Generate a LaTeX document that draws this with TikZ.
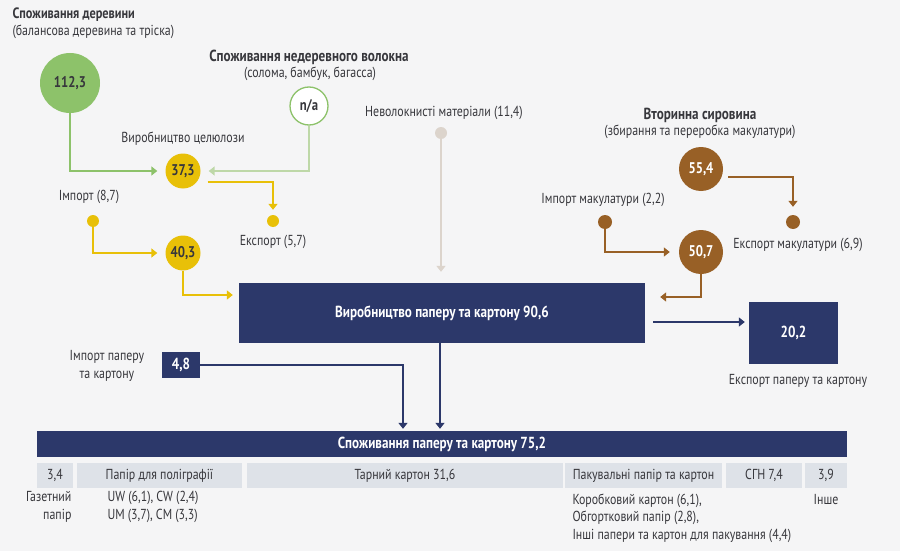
\documentclass[tikz,border=0pt]{standalone}
\usepackage{fontspec}
\setmainfont{PT Sans}[FakeStretch=0.82]
\usetikzlibrary{arrows.meta}

\definecolor{navy}{RGB}{44,56,106}
\definecolor{leaf}{RGB}{141,194,106}
\definecolor{paleleaf}{RGB}{190,216,168}
\definecolor{pulpy}{RGB}{232,192,8}
\definecolor{waste}{RGB}{152,96,38}
\definecolor{sand}{RGB}{220,212,204}
\definecolor{cellgray}{RGB}{222,226,232}
\definecolor{txt}{RGB}{55,55,60}
\definecolor{bg}{RGB}{245,245,246}

\begin{document}
\begin{tikzpicture}
	[x=1pt,y=-1pt,every node/.style={text=txt,font=\fontsize{14.5}{17.5}\selectfont},
	bold/.style={font=\bfseries\fontsize{16}{18}\selectfont},
	disc/.style={circle,inner sep=0pt,font=\bfseries\fontsize{15.5}{17}\selectfont},
	dot/.style={circle,inner sep=0pt,minimum size=12pt},
	box/.style={fill=navy,text=white,inner sep=0pt,font=\bfseries\fontsize{16}{18}\selectfont},
	cell/.style={fill=cellgray,inner sep=0pt,minimum height=25pt},
	flow/.style={line width=1.8pt,-{Triangle[width=9pt,length=6pt]}}]
	\useasboundingbox (0,0) rectangle (900,551);
	\fill[bg] (0,0) rectangle (900,551);
	
	% wood and non-wood fibre
	\node[anchor=west,bold,font=\bfseries\fontsize{15}{17}\selectfont] (t1) at (9,15) {Споживання деревини};
	\node[anchor=west] (t1s) at (9,32) {(балансова деревина та тріска)};
	\node[bold] (t2) at (309,57) {Споживання недеревного волокна};
	\node (t2s) at (310,74) {(солома, бамбук, багасса)};
	\node[disc,fill=leaf,minimum size=60pt] (wood) at (70,83) {112,3};
	\node[disc,draw=leaf,line width=1.3pt,fill=white,minimum size=38pt] (nonwood) at (309,106) {n/a};
	
	% pulp
	\node (l1) at (183,139) {Виробництво целюлози};
	\node[disc,fill=pulpy,minimum size=35pt] (pulp) at (183,171) {37,3};
	\node[dot,fill=pulpy] (pulpx) at (273,221) {};
	\node (l3) at (273,242) {Експорт (5,7)};
	\node (l2) at (89,197) {Імпорт (8,7)};
	\node[dot,fill=pulpy] (pulpi) at (93,221) {};
	\node[disc,fill=pulpy,minimum size=35pt] (pulpt) at (183,253) {40,3};
	
	\node (l4) at (444,113) {Неволокнисті матеріали (11,4)};
	\node[dot,fill=sand] (nonfib) at (441,133) {};
	
	% recovered paper
	\node[bold] (t3) at (700,115) {Вторинна сировина};
	\node (t3s) at (700,132) {(збирання та переробка макулатури)};
	\node[disc,fill=waste,text=white,minimum size=44pt] (rec) at (701,169) {55,4};
	\node[dot,fill=waste,minimum size=14pt] (recx) at (793,222) {};
	\node (l6) at (798,245) {Експорт макулатури (6,9)};
	\node (l5) at (603,200) {Імпорт макулатури (2,2)};
	\node[dot,fill=waste,minimum size=14pt] (reci) at (605,222) {};
	\node[disc,fill=waste,text=white,minimum size=44pt] (rect) at (701,252) {50,7};
	
	% paper and board
	\node[box,minimum width=406pt,minimum height=60pt] (prod) at (442,313) {Виробництво паперу та картону 90,6};
	\node[box,minimum width=89pt,minimum height=62pt] (expbox) at (793.5,333) {20,2};
	\node (l7) at (798,381) {Експорт паперу та картону};
	\node[align=center] (l8) at (107,366) {Імпорт паперу\\та картону};
	\node[box,minimum width=38pt,minimum height=26pt] (impbox) at (181,365) {4,8};
	\node[box,minimum width=810pt,minimum height=26pt] (cons) at (442,444) {Споживання паперу та картону 75,2};
	
	\foreach \x/\w/\name/\label in {55/36/c1/{3,4},159.5/165/c2/Папір для поліграфії,405/316/c3/{Тарний картон 31,6},643.5/157/c4/Пакувальні папір та картон,764/76/c5/{СГН 7,4},826/42/c6/{3,9}}
	\node[cell,minimum width=\w pt] (\name) at (\x,475.5) {\label};
	
	\node[anchor=east,align=right] (n1) at (75,507) {Газетний\\папір};
	\node[anchor=west,align=left] (n2) at (104,507) {UW (6,1), CW (2,4)\\UM (3,7), CM (3,3)};
	\node[anchor=west,align=left] (n3) at (569,518) {Коробковий картон (6,1),\\Обгортковий папір (2,8),\\Інші папери та картон для пакування (4,4)};
	\node (n4) at (826,500) {Інше};
	
	% flows
	\draw[flow,leaf,shorten >=8pt] (wood) |- (pulp);
	\draw[flow,paleleaf,shorten >=8pt] (nonwood) |- (pulp);
	\draw[flow,pulpy,shorten >=5pt] ([xshift=7pt,yshift=-11pt]pulp.east) -| (pulpx);
	\draw[flow,pulpy,shorten >=8pt] (pulpi) |- (pulpt);
	\draw[flow,pulpy,shorten >=6pt] (pulpt) |- ([yshift=18pt]prod.west);
	\draw[flow,sand,shorten >=11pt] (nonfib) -- (nonfib |- prod.north);
	\draw[flow,waste,shorten >=8pt] ([xshift=5pt,yshift=-8pt]rec.east) -| (recx);
	\draw[flow,waste,shorten >=9pt] (reci) |- (rect);
	\draw[flow,waste,shorten >=15pt] (rect) |- ([yshift=16pt]prod.east);
	\draw[flow,navy,line width=1.5pt,shorten >=4pt] ([xshift=8pt,yshift=-9pt]prod.east) -- ([yshift=11pt]expbox.west);
	\draw[flow,navy,line width=1.5pt,shorten >=2pt] (impbox) -| ([xshift=-39pt]cons.north);
	\draw[flow,navy,line width=1.5pt,shorten >=2pt] ([xshift=-2pt]prod.south) -- ([xshift=-2pt]cons.north);
\end{tikzpicture}
\end{document}
